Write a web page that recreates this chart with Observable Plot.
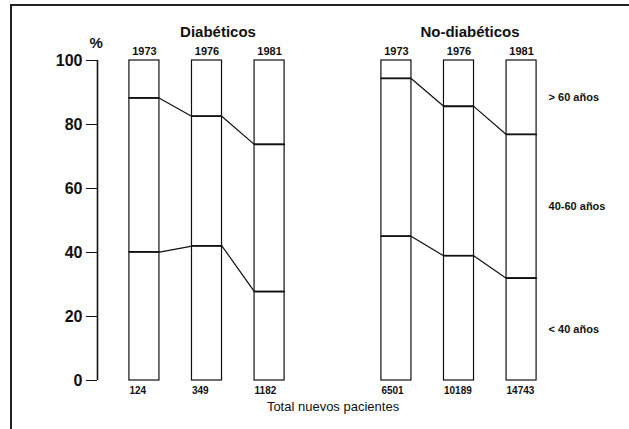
<!DOCTYPE html>
<html><head><meta charset="utf-8">
<script src="https://cdn.jsdelivr.net/npm/d3@7"></script>
<script src="https://cdn.jsdelivr.net/npm/@observablehq/plot@0.6"></script>
<style>
html,body{margin:0;padding:0;background:#fff;font-family:"Liberation Sans",Arial,sans-serif;overflow:hidden}
#wrap{position:relative;width:629px;height:429px;overflow:hidden;background:#fff}
#frame{position:absolute;z-index:3;left:10px;top:4px;width:640px;height:440px;border-top:2px solid #222;border-left:2px solid #222;box-sizing:border-box;pointer-events:none}
#wrap svg{position:absolute;left:0;top:0;z-index:1}
</style></head><body><div id="wrap"><div id="frame"></div></div>
<script>
const groups = ["Diabéticos", "No-diabéticos"];
const years = ["1973", "1976", "1981"];
const diabUnder40 = [40.1, 42.0, 27.7];
const diabUnder60 = [88.2, 82.5, 73.7];
const nonUnder40 = [45.0, 38.9, 31.9];
const nonUnder60 = [94.3, 85.6, 76.8];
const diabTotals = [124, 349, 1182];
const nonTotals = [6501, 10189, 14743];
const ageLabels = ["< 40 años", "40-60 años", "> 60 años"];
const yTicks = [0, 20, 40, 60, 80, 100];

const HW = 0.24; // half bar width in slot units
const XLO = -0.75, XHI = 2.75;

const series = [
  {g: groups[0], u40: diabUnder40, u60: diabUnder60, tot: diabTotals},
  {g: groups[1], u40: nonUnder40, u60: nonUnder60, tot: nonTotals}
];
const cols = [];
const segs = [];
const pts = [];
for (const s of series) {
  years.forEach((yr, i) => {
    cols.push({g: s.g, i, year: yr, total: String(s.tot[i])});
    const bounds = [0, s.u40[i], s.u60[i], 100];
    for (let k = 0; k < 3; k++) segs.push({g: s.g, i, y1: bounds[k], y2: bounds[k + 1], label: ageLabels[k]});
    pts.push({g: s.g, b: "u40", x: i - HW, y: s.u40[i]}, {g: s.g, b: "u40", x: i + HW, y: s.u40[i]});
    pts.push({g: s.g, b: "u60", x: i - HW, y: s.u60[i]}, {g: s.g, b: "u60", x: i + HW, y: s.u60[i]});
  });
}
const lastSegs = segs.filter(d => d.g === groups[1] && d.i === years.length - 1);

const chart = Plot.plot({
  width: 629, height: 429,
  marginTop: 60, marginBottom: 49, marginLeft: 96, marginRight: 60,
  style: {fontFamily: "Liberation Sans, Arial, sans-serif", color: "#111", background: "transparent"},
  fx: {domain: groups, paddingInner: 0.13, paddingOuter: 0},
  x: {domain: [XLO, XHI], axis: null},
  y: {domain: [0, 100]},
  marks: [
    Plot.axisY({ticks: yTicks, tickSize: 11, tickPadding: 4, fontSize: 16, fontWeight: "bold", label: null, tickFormat: d => d}),
    Plot.axisFx({anchor: "top", tickSize: 0, fontSize: 15, fontWeight: "bold", dy: -15, dx: 11, label: null}),
    Plot.axisFx({anchor: "bottom", tickSize: 0, tickFormat: () => "", label: "Total nuevos pacientes", labelAnchor: "center", labelOffset: 30, fontSize: 13}),
    Plot.ruleX([{g: groups[0]}], {fx: "g", x: () => XLO, stroke: "#111", strokeWidth: 1.6}),
    Plot.text([{g: groups[0]}], {fx: "g", frameAnchor: "top-left", text: () => "%", dx: -8, dy: -13, lineAnchor: "bottom", fontSize: 15, fontWeight: "bold"}),
    Plot.line(pts, {fx: "g", x: "x", y: "y", z: d => d.b, stroke: "#111", strokeWidth: 1.2}),
    Plot.rectY(segs, {fx: "g", x1: d => d.i - HW, x2: d => d.i + HW, y1: "y1", y2: "y2", fill: "none", stroke: "#111", strokeWidth: 1.2}),
    Plot.text(cols, {fx: "g", x: "i", frameAnchor: "top", text: "year", dy: -6, lineAnchor: "bottom", fontSize: 11, fontWeight: "bold"}),
    Plot.text(cols, {fx: "g", x: d => d.i - HW, frameAnchor: "bottom", text: "total", dy: 6, lineAnchor: "top", textAnchor: "start", fontSize: 10, fontWeight: "bold"}),
    Plot.text(lastSegs, {fx: "g", x: "i", y: d => (d.y1 + d.y2) / 2, text: "label", dx: 27, textAnchor: "start", fontSize: 11, fontWeight: "bold"})
  ]
});
document.getElementById("wrap").appendChild(chart);
</script>
</body></html>
